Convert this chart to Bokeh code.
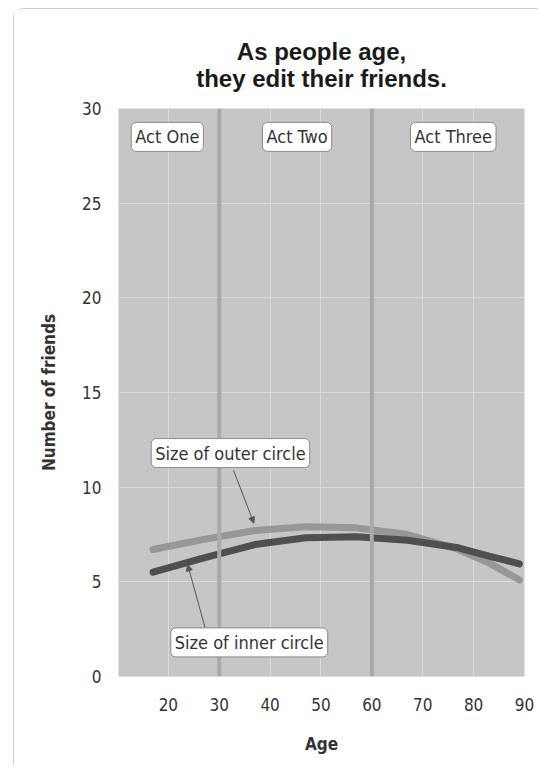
from bokeh.plotting import figure
from bokeh.models import Label, Arrow, NormalHead, Span, FixedTicker
from bokeh.embed import file_html
from bokeh.resources import INLINE

# ---- data ----
ages = [17, 27, 37, 47, 57, 67, 77, 83, 89]
outer_circle = [6.71, 7.24, 7.71, 7.91, 7.85, 7.50, 6.71, 6.0, 5.1]
inner_circle = [5.51, 6.27, 6.97, 7.33, 7.38, 7.20, 6.80, 6.36, 5.95]
act_bounds = [30, 60]
act_names = ["Act One", "Act Two", "Act Three"]
act_label_x = [19.8, 45.3, 76]
x_ticks = [20, 30, 40, 50, 60, 70, 80, 90]
y_ticks = [0, 5, 10, 15, 20, 25, 30]
title_lines = ["As people age,", "they edit their friends."]

FONT = "DejaVu Sans Condensed"

p = figure(width=525, height=757, x_range=(10.2, 90), y_range=(0, 30),
           output_backend="svg", toolbar_location=None,
           min_border_left=104, min_border_right=15, min_border_top=99, min_border_bottom=90)
p.margin = (8, 0, 0, 13)
p.styles = {"border-left": "1px solid #cfcfcf", "border-top": "1px solid #cfcfcf",
            "border-top-left-radius": "10px"}

p.title.text = "\n".join(title_lines)
p.title.align = "center"
p.title.text_align = "center"
p.title.vertical_align = "top"
p.title.text_line_height = 1.0
p.title.text_font = "Liberation Sans"
p.title.text_font_size = "24px"
p.title.text_font_style = "bold"
p.title.text_color = "#1a1a1a"
p.title.standoff = 30

p.background_fill_color = "#c6c6c6"
p.border_fill_color = "white"
p.outline_line_color = None

for ax in (p.xaxis, p.yaxis):
    ax.axis_line_color = None
    ax.major_tick_line_color = None
    ax.minor_tick_line_color = None
    ax.major_label_text_font = FONT
    ax.major_label_text_font_size = "17px"
    ax.major_label_text_color = "#333333"
    ax.axis_label_text_font = FONT
    ax.axis_label_text_font_size = "17px"
    ax.axis_label_text_font_style = "bold"
    ax.axis_label_text_color = "#333333"

p.xaxis.ticker = FixedTicker(ticks=x_ticks)
p.yaxis.ticker = FixedTicker(ticks=y_ticks)
p.xaxis.axis_label = "Age"
p.yaxis.axis_label = "Number of friends"
p.xaxis.major_label_standoff = 15
p.yaxis.major_label_standoff = 11
p.xaxis.axis_label_standoff = 20
p.yaxis.axis_label_standoff = 20

p.xgrid.grid_line_color = "#dadada"
p.ygrid.grid_line_color = "#dadada"
p.xgrid.grid_line_width = 1
p.ygrid.grid_line_width = 1

for b in act_bounds:
    p.add_layout(Span(location=b, dimension="height", line_color="#a9a9a9", line_width=4))

p.line(ages, outer_circle, line_color="#979797", line_width=7, line_cap="round")
p.line(ages, inner_circle, line_color="#4f4f4f", line_width=7, line_cap="round")

def boxed(text, x, y):
    return Label(x=x, y=y, text=text, text_font=FONT, text_font_size="18px",
                 text_color="#333333", text_align="center", text_baseline="middle",
                 background_fill_color="white", border_line_color="#8a8a8a",
                 border_line_width=1, padding=4, border_radius=5)

for name, xx in zip(act_names, act_label_x):
    p.add_layout(boxed(name, xx, 28.5))

p.add_layout(boxed("Size of outer circle", 32.2, 11.8))
p.add_layout(boxed("Size of inner circle", 35.9, 1.8))

p.add_layout(Arrow(end=NormalHead(size=6, fill_color="#555555", line_color="#555555"),
                   x_start=32.8, y_start=10.9, x_end=36.8, y_end=8.1,
                   line_color="#555555", line_width=1))
p.add_layout(Arrow(end=NormalHead(size=6, fill_color="#555555", line_color="#555555"),
                   x_start=27.2, y_start=2.6, x_end=23.8, y_end=5.9,
                   line_color="#555555", line_width=1))

open("out.html", "w").write(file_html(p, INLINE))
